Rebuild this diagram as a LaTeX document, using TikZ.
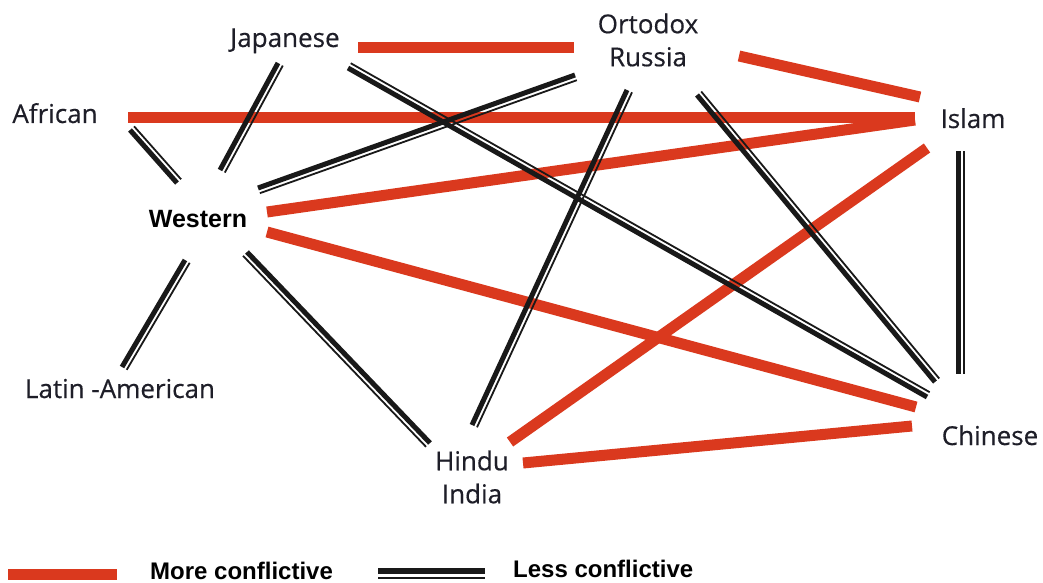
\documentclass[tikz,border=0pt]{standalone}
\usepackage{fontspec}
\newfontfamily\labfont{Open Sans}[FakeBold=0.4]
\newfontfamily\arialfont{Liberation Sans}
\definecolor{confred}{RGB}{218,57,30}
\definecolor{labcol}{RGB}{30,30,40}
\newcommand\lessline[3]{%
  \draw[lessthick] (#1) -- (#2);
  \draw[lessthin, transform canvas={shift={#3}}] (#1) -- (#2);}
\begin{document}
\begin{tikzpicture}[x=1pt,y=-1pt,
  lab/.style={font=\labfont\fontsize{26}{33}\selectfont, text=labcol, inner sep=0pt, align=center},
  boldlab/.style={font=\arialfont\bfseries\fontsize{25}{30}\selectfont, text=black, inner sep=0pt},
  legtext/.style={font=\arialfont\bfseries\fontsize{24}{28}\selectfont, text=black, inner sep=0pt},
  more/.style={line width=11pt, draw=confred},
  lessthick/.style={line width=5pt, draw=black!90},
  lessthin/.style={line width=1.8pt, draw=black!90}]
\useasboundingbox (0,0) rectangle (1043,583);
\fill[white] (0,0) rectangle (1043,583);
% nodes
\node[lab, anchor=base] (A) at (55,123) {African};
\node[lab, anchor=base] (J) at (285,47) {Japanese};
\node[lab] (R) at (648,40) {Ortodox\\ Russia};
\node[lab, anchor=base] (I) at (973,128) {Islam};
\node[boldlab, anchor=base] (W) at (198,227) {Western};
\node[lab, anchor=base] (L) at (120,398) {Latin -American};
\node[lab] (H) at (472,477) {Hindu\\India};
\node[lab, anchor=base] (C) at (990,445) {Chinese};
% more conflictive
\draw[more] ([shift={(73,1)}]J.base) -- ([shift={(-74,8)}]R.center);
\draw[more] ([shift={(91,16)}]R.center) -- ([shift={(-53,-31)}]I.base);
\draw[more] ([shift={(73,-5.5)}]A.base) -- ([shift={(-58,-10.5)}]I.base);
\draw[more] ([shift={(69,-15)}]W.base) -- ([shift={(-58,-8)}]I.base);
\draw[more] ([shift={(69,5)}]W.base) -- ([shift={(-74,-38)}]C.base);
\draw[more] ([shift={(38,-35)}]H.center) -- ([shift={(-46,20)}]I.base);
\draw[more] ([shift={(51,-14)}]H.center) -- ([shift={(-78,-19)}]C.base);
% less conflictive
\lessline{[shift={(75,7)}]A.base}{[shift={(-21,-44)}]W.base}{(4.1,-3.65)}
\lessline{[shift={(-7,16)}]J.base}{[shift={(22,-57)}]W.base}{(4.8,2.6)}
\lessline{[shift={(63,21)}]J.base}{[shift={(-63,-48)}]C.base}{(2.7,-4.8)}
\lessline{[shift={(60,-39)}]W.base}{[shift={(-73,35)}]R.center}{(1.85,5.2)}
\lessline{[shift={(-21,50)}]R.center}{[shift={(0,-52)}]H.center}{(5,2.3)}
\lessline{[shift={(49,55)}]R.center}{[shift={(-55,-63)}]C.base}{(4.2,-3.5)}
\lessline{[shift={(-13,33)}]W.base}{[shift={(2,-31)}]L.base}{(4.7,2.8)}
\lessline{[shift={(49,25)}]W.base}{[shift={(-42,-34)}]H.center}{(-4,3.8)}
\lessline{[shift={(-14.5,23)}]I.base}{[shift={(-31.5,-71)}]C.base}{(5.5,0)}
% legend
\node[legtext, anchor=base west] (moreleg) at (150,579) {More conflictive};
\node[legtext, anchor=base west] (lessleg) at (513,577) {Less conflictive};
\draw[line width=11pt, confred] (8,574.5) -- (117,574.5);
\draw[line width=6pt, black!90] (378,571) -- (485,571);
\draw[line width=2pt, black!90] (378,578) -- (485,578);
\end{tikzpicture}
\end{document}
